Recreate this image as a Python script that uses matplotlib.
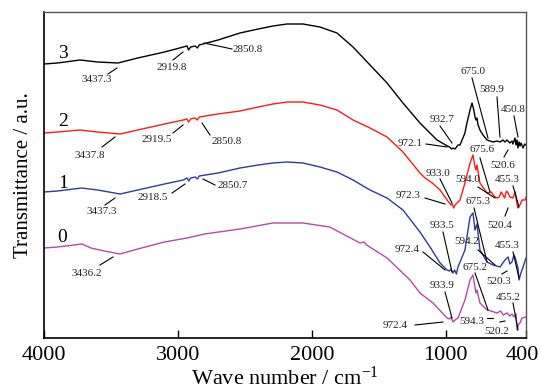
import matplotlib
matplotlib.use("Agg")
import matplotlib.pyplot as plt
import matplotlib.transforms as mtransforms

plt.rcParams['font.family'] = ['Liberation Serif', 'DejaVu Serif']
plt.rcParams['mathtext.fontset'] = 'custom'
plt.rcParams['mathtext.rm'] = 'Liberation Serif'
plt.rcParams['mathtext.it'] = 'Liberation Serif:italic'

# ---------------- data (wavenumber, transmittance a.u.) ----------------
wn_3 = [4000, 3900, 3731, 3600, 3447, 3300, 3100, 2960, 2932, 2920, 2905, 2870, 2855, 2840,
        2700, 2536, 2400, 2290, 2185, 2066, 1939, 1812, 1692, 1565, 1438, 1319, 1192, 1065,
        1000, 972, 955, 945, 930, 908, 893, 856, 841, 818, 803, 790, 781, 774, 766, 760, 744,
        721, 691, 669, 646, 617, 594, 572, 557, 542, 520, 505, 498, 482, 475, 467, 460, 452,
        445, 437, 422, 410, 400]
t_3 = [274, 275, 278, 276, 275, 280, 286, 291, 292, 288, 291, 292, 290, 293,
       298, 305, 309, 312, 314, 314, 311, 305, 291, 273, 255, 235, 215, 198,
       193, 191, 189, 190, 189, 193, 193, 205, 215, 228, 235, 228, 221, 218, 220, 214, 208,
       203, 198, 197, 196, 197, 196, 198, 196, 198, 195, 197, 194, 200, 193, 198, 190, 196,
       192, 195, 190, 194, 193]

wn_2 = [4000, 3900, 3731, 3600, 3432, 3300, 3100, 2960, 2932, 2920, 2905, 2870, 2855, 2840,
        2700, 2536, 2400, 2290, 2185, 2066, 1939, 1812, 1692, 1565, 1438, 1319, 1192, 1154,
        1100, 1042, 1000, 972, 960, 950, 940, 930, 908, 893, 856, 818, 796, 781, 774, 766, 744,
        691, 660, 640, 617, 600, 585, 572, 560, 545, 534, 520, 498, 480, 470, 460, 455, 445,
        430, 407, 400]
t_2 = [205, 206, 208, 206, 204, 208, 214, 218, 219, 216, 219, 220, 218, 221,
       224, 227, 231, 234, 236, 236, 233, 228, 218, 210, 201, 186, 165, 160,
       155, 148, 140, 135, 133, 134, 130, 133, 136, 138, 155, 175, 183, 171, 168, 173, 155,
       145, 146, 142, 140, 141, 146, 143, 140, 147, 145, 141, 140, 146, 136, 130, 132, 133,
       138, 138, 141]

wn_1 = [4000, 3900, 3720, 3600, 3432, 3300, 3100, 2960, 2932, 2918, 2905, 2870, 2855, 2840,
        2700, 2536, 2400, 2290, 2185, 2066, 1939, 1812, 1692, 1565, 1438, 1319, 1192, 1117,
        1042, 990, 972, 960, 945, 933, 920, 908, 856, 818, 796, 781, 774, 766, 744, 691, 646,
        594, 557, 534, 520, 505, 490, 482, 470, 460, 452, 440, 422, 400]
t_1 = [146, 147, 150, 148, 144, 148, 154, 158, 160, 157, 160, 161, 159, 162,
       165, 170, 173, 175, 176, 175, 171, 166, 158, 148, 140, 128, 106, 91,
       75, 68, 67, 69, 65, 68, 64, 71, 88, 121, 125, 108, 111, 114, 88, 76, 73,
       71, 78, 81, 74, 76, 83, 81, 75, 70, 58, 64, 71, 80]

wn_0 = [4000, 3900, 3716, 3650, 3550, 3432, 3300, 3100, 2932, 2800, 2536, 2290, 2185, 2066,
        1866, 1640, 1610, 1590, 1438, 1266, 1192, 1095, 990, 972, 960, 945, 930, 908, 856, 818,
        796, 774, 766, 744, 691, 660, 617, 590, 570, 542, 520, 505, 490, 475, 467, 455, 445,
        430, 400]
t_0 = [90, 91, 94, 90, 87, 84, 89, 96, 100, 104, 109, 115, 115, 115,
       111, 95, 96, 93, 80, 58, 45, 35, 20, 19, 21, 16, 18, 20, 38, 58,
       63, 45, 48, 35, 28, 27, 25, 27, 23, 25, 22, 24, 21, 24, 8, 14, 15,
       20, 21]

series_names = ['3', '2', '1', '0']
series_wn = [wn_3, wn_2, wn_1, wn_0]
series_t = [t_3, t_2, t_1, t_0]
series_colors = ['#000000', '#ff1a1a', '#2e3b97', '#b24ca8']

x_ticks = [4000, 3000, 2000, 1000, 400]

# peak labels (text) per curve
labels_3 = ['3437.3', '2919.8', '2850.8', '932.7', '972.1', '675.0', '589.9', '450.8', '520.6']
labels_2 = ['3437.8', '2919.5', '2850.8', '933.0', '972.3', '675.6', '594.0', '455.3', '520.4']
labels_1 = ['3437.3', '2918.5', '2850.7', '933.5', '972.4', '675.3', '594.2', '455.3', '520.3']
labels_0 = ['3436.2', '933.9', '972.4', '675.2', '594.3', '520.2', '455.2']

# ---------------- layout (reference pixel positions for annotations) ----------------
XL, XR, YT, YB = 44, 526, 12, 338


def P(px, py):
    return (4000 - (px - XL) * 3600.0 / (XR - XL), YB - py)


lay_3 = [((97, 80), (108, 74), (117, 68)),
         ((172, 67), (173, 60), (183, 52)),
         ((248, 49), (232, 49), (204, 43)),
         ((442, 120), (440, 126), (452, 143)),
         ((410, 144), (426, 144), (447, 147)),
         ((473, 72), (472, 78), (488, 138)),
         ((492, 90), (497, 97), (500, 137)),
         ((513, 109), (514, 116), (518, 137)),
         ((503, 165), (504, 157), (508, 150))]
lay_2 = [((90, 155), (102, 147), (115, 137)),
         ((157, 140), (173, 133), (183, 125)),
         ((227, 142), (210, 135), (202, 123)),
         ((438, 173), (440, 179), (452, 203)),
         ((408, 195), (425, 198), (445, 204)),
         ((482, 150), (480, 158), (490, 192)),
         ((468, 180), (478, 187), (495, 198)),
         ((507, 180), (513, 186), (519, 207)),
         ((500, 225), (505, 216), (508, 208))]
lay_1 = [((102, 212), (105, 205), (115, 198)),
         ((153, 197), (172, 193), (185, 184)),
         ((233, 185), (215, 185), (203, 179)),
         ((442, 225), (443, 232), (452, 272)),
         ((407, 250), (423, 252), (445, 270)),
         ((478, 202), (474, 208), (487, 262)),
         ((467, 242), (478, 250), (495, 265)),
         ((507, 245), (513, 252), (519, 278)),
         ((499, 281), (502, 274), (507, 271))]
lay_0 = [((87, 273), (100, 265), (113, 257)),
         ((442, 285), (445, 292), (452, 318)),
         ((395, 325), (415, 325), (443, 322)),
         ((475, 267), (475, 273), (488, 310)),
         ((472, 322), (487, 318), (493, 318)),
         ((497, 331), (500, 322), (505, 321)),
         ((508, 297), (513, 303), (518, 330))]
name_pos = [(63, 53), (63, 122), (63, 183), (62, 237)]

# ---------------- plot ----------------
fig = plt.figure(figsize=(5.41, 3.92), dpi=100)
ax = fig.add_axes([XL / 541, 1 - YB / 392, (XR - XL) / 541, (YB - YT) / 392])

for wn, t, c in zip(series_wn, series_t, series_colors):
    ax.plot(wn, t, color=c, lw=1.0)

for name, pos in zip(series_names, name_pos):
    ax.text(*P(*pos), name, fontsize=14, ha='center', va='center')

for labels, lay in zip([labels_3, labels_2, labels_1, labels_0], [lay_3, lay_2, lay_1, lay_0]):
    for lab, (tp, a, b) in zip(labels, lay):
        ax.text(*P(*tp), lab, fontsize=8, ha='center', va='center', color='#222222')
        pa, pb = P(*a), P(*b)
        ax.plot([pa[0], pb[0]], [pa[1], pb[1]], color='black', lw=0.8)

ax.set_xlim(4000, 400)
ax.set_ylim(0, YB - YT)
ax.set_xticks(x_ticks)
ax.set_xticklabels([str(v) for v in x_ticks], fontsize=16)
ax.tick_params(axis='x', direction='in', length=6, width=1, pad=6)
ax.set_yticks([])
# nudge the last tick label ("400") slightly inward like the reference
last = ax.get_xticklabels()[-1]
last.set_transform(last.get_transform() + mtransforms.ScaledTranslation(-4 / 100, 0, fig.dpi_scale_trans))
ax.set_xlabel('Wave number / cm$^{-1}$', fontsize=16, labelpad=1)
ax.set_ylabel('Transmittance / a.u.', fontsize=15, labelpad=8)
for s in ['left', 'bottom']:
    ax.spines[s].set_linewidth(1.2)
for s in ['top', 'right']:
    ax.spines[s].set_color('#555555')
    ax.spines[s].set_linewidth(1.0)

fig.savefig('out.png', dpi=100)
